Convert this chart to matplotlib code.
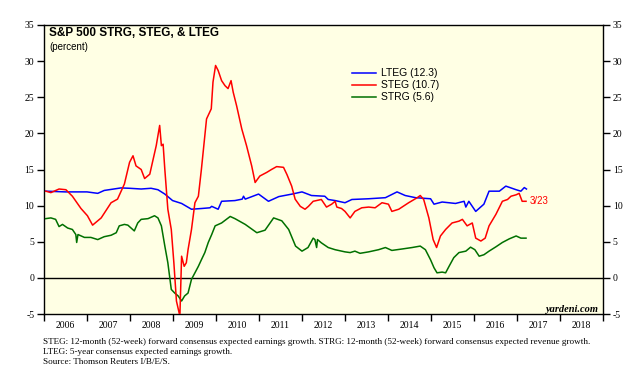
import matplotlib
matplotlib.use("Agg")
import matplotlib.pyplot as plt

# ---- data (decimal years, percent) ----
lteg_t = [2006.04, 2006.5, 2007.0, 2007.25, 2007.40, 2007.79, 2007.99, 2008.26, 2008.49, 2008.65,
          2008.81, 2008.99, 2009.20, 2009.43, 2009.66, 2009.86, 2009.90, 2010.05, 2010.13, 2010.44,
          2010.61, 2010.64, 2010.68, 2010.99, 2011.22, 2011.46, 2011.77, 2012.0, 2012.22, 2012.53,
          2012.61, 2012.77, 2013.0, 2013.16, 2013.55, 2013.94, 2014.21, 2014.40, 2014.64, 2014.99,
          2015.07, 2015.26, 2015.57, 2015.77, 2015.81, 2015.88, 2016.04, 2016.23, 2016.35, 2016.59,
          2016.74, 2016.98, 2017.09, 2017.17, 2017.22]
lteg_v = [12.0, 11.9, 11.9, 11.7, 12.1, 12.45, 12.4, 12.3, 12.4, 12.2,
          11.6, 10.7, 10.3, 9.5, 9.6, 9.7, 9.9, 9.5, 10.6, 10.7,
          10.9, 11.3, 10.9, 11.6, 10.6, 11.25, 11.6, 11.9, 11.4, 11.3,
          10.85, 10.7, 10.4, 10.85, 10.95, 11.1, 11.9, 11.4, 11.1, 10.95,
          10.2, 10.5, 10.3, 10.6, 9.8, 10.6, 9.2, 10.2, 12.0, 12.0,
          12.7, 12.2, 12.0, 12.5, 12.3]

steg_t = [2006.04, 2006.16, 2006.35, 2006.51, 2006.66, 2006.86, 2007.01, 2007.13, 2007.33, 2007.56,
          2007.71, 2007.87, 2007.99, 2008.07, 2008.14, 2008.26, 2008.34, 2008.46, 2008.53, 2008.61,
          2008.69, 2008.73, 2008.77, 2008.81, 2008.88, 2008.96, 2009.02, 2009.08, 2009.16, 2009.20,
          2009.26, 2009.31, 2009.35, 2009.43, 2009.51, 2009.59, 2009.66, 2009.78, 2009.89, 2009.93,
          2009.99, 2010.05, 2010.13, 2010.21, 2010.28, 2010.35, 2010.40, 2010.48, 2010.60, 2010.71,
          2010.83, 2010.91, 2011.02, 2011.18, 2011.29, 2011.41, 2011.57, 2011.65, 2011.76, 2011.84,
          2011.96, 2012.07, 2012.15, 2012.26, 2012.45, 2012.57, 2012.69, 2012.77, 2012.81, 2012.92,
          2013.0, 2013.12, 2013.23, 2013.39, 2013.55, 2013.70, 2013.86, 2014.01, 2014.09, 2014.25,
          2014.48, 2014.68, 2014.75, 2014.83, 2014.95, 2015.05, 2015.13, 2015.22, 2015.34, 2015.49,
          2015.65, 2015.73, 2015.84, 2015.96, 2016.04, 2016.16, 2016.26, 2016.35, 2016.51, 2016.66,
          2016.78, 2016.86, 2016.98, 2017.05, 2017.12, 2017.21]
steg_v = [12.0, 11.8, 12.3, 12.2, 11.3, 9.6, 8.6, 7.3, 8.3, 10.4,
          10.9, 13.0, 16.0, 16.9, 15.5, 15.0, 13.75, 14.35, 16.2, 18.3,
          21.1, 18.3, 18.5, 15.0, 9.5, 6.7, 2.1, -3.2, -5.3, 3.0,
          1.6, 2.1, 3.9, 6.7, 10.4, 11.3, 15.0, 22.0, 23.4, 27.1,
          29.4, 28.7, 27.3, 26.6, 26.2, 27.3, 25.7, 23.8, 20.6, 18.3,
          15.5, 13.2, 14.1, 14.6, 15.0, 15.4, 15.3, 14.3, 12.7, 10.9,
          9.9, 9.5, 9.9, 10.6, 10.85, 9.8, 10.2, 10.6, 9.8, 9.6,
          9.2, 8.3, 9.2, 9.7, 9.8, 9.7, 10.4, 10.2, 9.2, 9.5,
          10.4, 11.1, 11.4, 10.85, 8.3, 5.3, 4.2, 5.8, 6.7, 7.6,
          7.85, 8.1, 7.2, 7.6, 5.5, 5.1, 5.5, 7.2, 8.8, 10.6,
          10.85, 11.3, 11.5, 11.7, 10.6, 10.6]

strg_t = [2006.04, 2006.16, 2006.27, 2006.35, 2006.43, 2006.55, 2006.66, 2006.74, 2006.76, 2006.79,
          2006.94, 2007.09, 2007.25, 2007.40, 2007.56, 2007.68, 2007.75, 2007.87, 2007.95, 2008.10,
          2008.18, 2008.26, 2008.42, 2008.57, 2008.65, 2008.73, 2008.81, 2008.88, 2008.96, 2009.04,
          2009.12, 2009.20, 2009.27, 2009.35, 2009.43, 2009.51, 2009.59, 2009.66, 2009.74, 2009.82,
          2009.90, 2009.98, 2010.13, 2010.33, 2010.44, 2010.68, 2010.95, 2011.14, 2011.34, 2011.53,
          2011.69, 2011.85, 2012.0, 2012.14, 2012.26, 2012.30, 2012.34, 2012.36, 2012.45, 2012.61,
          2012.77, 2013.0, 2013.12, 2013.23, 2013.35, 2013.55, 2013.78, 2013.94, 2014.09, 2014.33,
          2014.56, 2014.75, 2014.87, 2014.99, 2015.07, 2015.14, 2015.26, 2015.34, 2015.42, 2015.53,
          2015.65, 2015.81, 2015.92, 2016.02, 2016.12, 2016.23, 2016.35, 2016.51, 2016.66, 2016.82,
          2016.98, 2017.09, 2017.21]
strg_v = [8.2, 8.3, 8.1, 7.1, 7.4, 6.9, 6.7, 6.0, 4.9, 6.0,
          5.6, 5.6, 5.3, 5.7, 5.9, 6.25, 7.2, 7.4, 7.3, 6.5,
          7.6, 8.1, 8.2, 8.6, 8.3, 7.2, 4.4, 2.1, -1.6, -2.1,
          -2.5, -3.2, -2.5, -2.1, -0.2, 0.7, 1.6, 2.5, 3.5, 4.9,
          6.0, 7.2, 7.6, 8.5, 8.2, 7.4, 6.25, 6.6, 8.3, 7.9,
          6.7, 4.4, 3.7, 4.2, 5.5, 5.3, 4.2, 5.3, 4.85, 4.2,
          3.9, 3.6, 3.5, 3.7, 3.4, 3.6, 3.9, 4.2, 3.8, 4.0,
          4.2, 4.4, 3.9, 2.5, 1.4, 0.7, 0.8, 0.7, 1.6, 2.8,
          3.5, 3.7, 4.25, 3.9, 3.0, 3.2, 3.7, 4.3, 4.9, 5.4,
          5.8, 5.5, 5.5]

years = list(range(2006, 2019))
y_ticks = [-5, 0, 5, 10, 15, 20, 25, 30, 35]
legend_labels = ["LTEG (12.3)", "STEG (10.7)", "STRG (5.6)"]
last_label = "3/23"

# ---- figure ----
W, H = 636, 389
fig = plt.figure(figsize=(W / 100, H / 100), dpi=100)
ax = fig.add_axes([44 / W, 1 - 314 / H, (603 - 44) / W, (314 - 25) / H])
ax.set_facecolor("#FFFFE4")

serif = "Liberation Serif"
sans = "Liberation Sans"

ax.axhline(0, color="black", lw=1.0, zorder=2)
l1, = ax.plot(lteg_t, lteg_v, color="#0000FF", lw=1.1, zorder=3)
l2, = ax.plot(steg_t, steg_v, color="#FF0000", lw=1.1, zorder=4)
l3, = ax.plot(strg_t, strg_v, color="#007000", lw=1.1, zorder=3)

ax.set_xlim(2006, 2019)
ax.set_ylim(-5, 35)

# x axis: ticks at year boundaries, labels mid-year
ax.set_xticks(years + [2019])
ax.set_xticklabels([])
ax.set_xticks([y + 0.5 for y in years], minor=True)
ax.set_xticklabels([str(y) for y in years], minor=True, fontfamily=serif, fontsize=7)
ax.tick_params(axis="x", which="major", direction="out", length=5, width=1)
ax.tick_params(axis="x", which="minor", length=0, pad=5)

ax.set_yticks(y_ticks)
ax.set_yticklabels([str(v) for v in y_ticks], fontfamily=serif, fontsize=7)
ax.tick_params(axis="y", which="both", direction="out", length=5, width=1,
               left=True, right=True, labelleft=True, labelright=True, pad=2)

for s in ax.spines.values():
    s.set_linewidth(1.0)

# title
fig.text(49 / W, 1 - 33 / H, "S&P 500 STRG, STEG, & LTEG", fontfamily=sans,
         fontweight="bold", fontsize=8.5, va="center", ha="left")
fig.text(49 / W, 1 - 47 / H, "(percent)", fontfamily=sans, fontsize=7, va="center", ha="left")

# legend
leg = ax.legend([l1, l2, l3], legend_labels, loc="upper left",
                bbox_to_anchor=((348 - 44) / (603 - 44), 1 - (64 - 25) / (314 - 25)),
                frameon=False, prop={"family": sans, "size": 7.5},
                handlelength=2.3, handletextpad=0.5, labelspacing=0.2, borderaxespad=0)

ax.annotate(last_label, xy=(steg_t[-1], steg_v[-1]), xytext=(2.5, 0),
            textcoords="offset points", color="#FF0000", fontfamily=sans,
            fontsize=7, va="center", ha="left")

fig.text(598 / W, 1 - 309 / H, "yardeni.com", fontfamily=serif, fontstyle="italic",
         fontweight="bold", fontsize=7.5, ha="right", va="center")

foot = ("STEG: 12-month (52-week) forward consensus expected earnings growth. "
        "STRG: 12-month (52-week) forward consensus expected revenue growth.\n"
        "LTEG: 5-year consensus expected earnings growth.\n"
        "Source: Thomson Reuters I/B/E/S.")
fig.text(43 / W, 1 - 338 / H, foot, fontfamily=serif, fontsize=6.6, ha="left", va="top",
         linespacing=1.3)

fig.savefig("out.png", dpi=100)
